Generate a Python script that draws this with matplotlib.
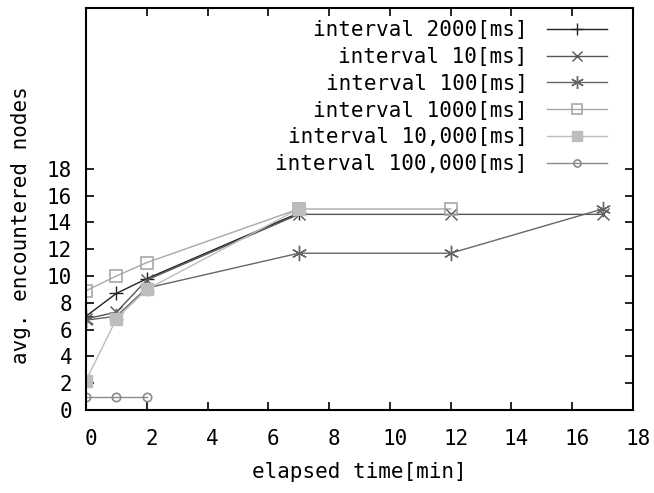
import matplotlib
matplotlib.use("Agg")
import matplotlib.pyplot as plt
import matplotlib.transforms as mtransforms

# data
x_2000 = [0, 1, 2, 7]
y_2000 = [7.0, 8.7, 9.8, 14.7]
x_10 = [0, 1, 2, 7, 12, 17]
y_10 = [6.8, 7.3, 9.7, 14.6, 14.6, 14.6]
x_100 = [0, 1, 2, 7, 12, 17]
y_100 = [6.7, 7.0, 9.1, 11.7, 11.7, 15.0]
x_1000 = [0, 1, 2, 7, 12]
y_1000 = [8.9, 10.0, 11.0, 15.0, 15.0]
x_10000 = [0, 1, 2, 7]
y_10000 = [2.2, 6.8, 9.0, 15.0]
x_100000 = [0, 1, 2]
y_100000 = [1.0, 1.0, 1.0]

labels = ["interval 2000[ms]", "interval 10[ms]", "interval 100[ms]",
          "interval 1000[ms]", "interval 10,000[ms]", "interval 100,000[ms]"]
xticks = list(range(0, 19, 2))
yticks = list(range(0, 19, 2))

plt.rcParams['font.family'] = ['DejaVu Sans Mono']
FS = 15

fig = plt.figure(figsize=(6.54, 4.93), dpi=100)
ax = fig.add_axes([86/654, 1-410/493, (633-86)/654, (410-8)/493])

asterisk = (6, 2, 0)
series = [
    (x_2000, y_2000, '#222222', '+', dict(ms=10, mew=1.0)),
    (x_10, y_10, '#555555', 'x', dict(ms=8, mew=1.0)),
    (x_100, y_100, '#666666', asterisk, dict(ms=11, mew=1.0)),
    (x_1000, y_1000, '#a8a8a8', 's', dict(ms=9, mew=1.2, mfc='none')),
    (x_10000, y_10000, '#bdbdbd', 's', dict(ms=9, mew=1.0)),
    (x_100000, y_100000, '#8a8a8a', 'o', dict(ms=6, mew=1.2, mfc='none')),
]
for (xs, ys, c, m, kw), lab in zip(series, labels):
    ax.plot(xs, ys, color=c, marker=m, lw=1.0, label=lab, **kw)

ax.set_xlim(0, 18)
ax.set_ylim(0, 30)
ax.set_xticks(xticks)
ax.set_yticks(yticks)
ax.tick_params(direction='in', length=6, width=1.2, top=True, right=True,
               labelsize=FS, color='black')
ax.tick_params(axis='x', pad=14)
ax.tick_params(axis='y', pad=10)
for s in ax.spines.values():
    s.set_linewidth(1.5)

# gnuplot-style slight right shift of x tick labels
shift = mtransforms.ScaledTranslation(5/100, 0, fig.dpi_scale_trans)
for t in ax.xaxis.get_major_ticks():
    t.label1.set_transform(t.label1.get_transform() + shift)

ax.set_xlabel("elapsed time[min]", fontsize=FS)
ax.xaxis.set_label_coords(0.5, -0.13)
ax.set_ylabel("avg. encountered nodes", fontsize=FS)
ax.yaxis.set_label_coords(-0.10, 0.46)

leg = ax.legend(loc='upper right', markerfirst=False, frameon=False,
                fontsize=FS, handlelength=2.9, labelspacing=0.33,
                borderaxespad=0.0, handletextpad=0.9, markerscale=0.85,
                borderpad=0.0, bbox_to_anchor=(1 - 26/547, 1 - 12/402))

fig.savefig("out.png", dpi=100)
